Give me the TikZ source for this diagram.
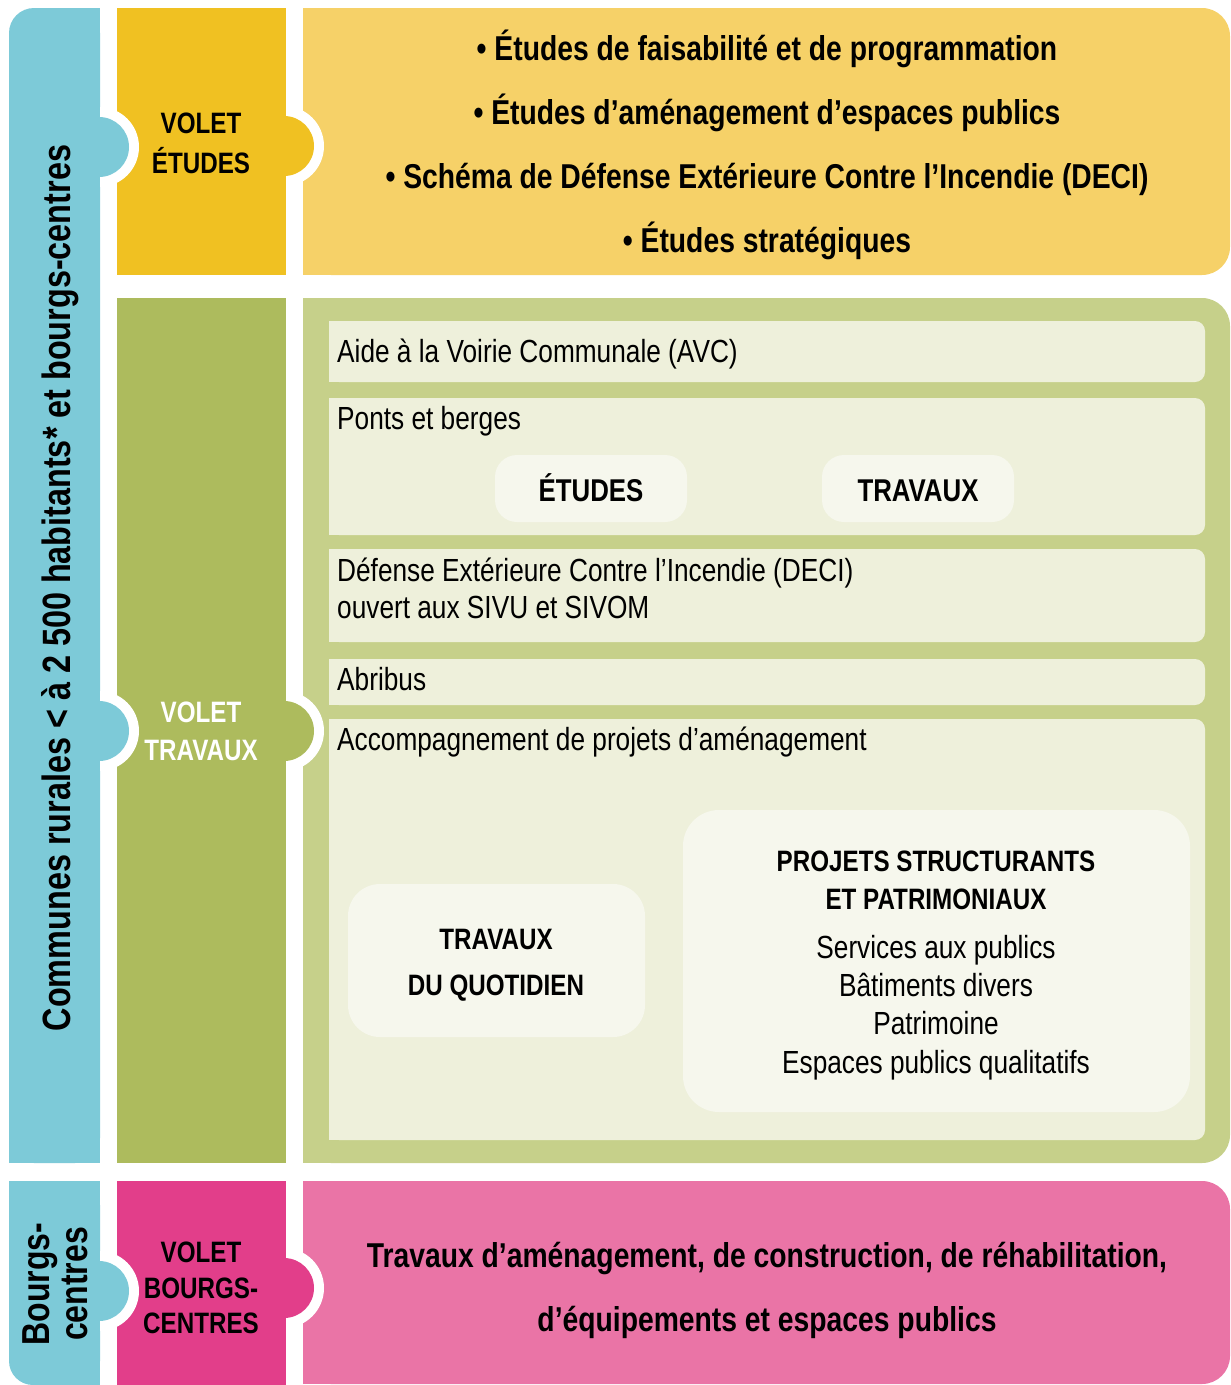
\documentclass[tikz,border=0pt]{standalone}
\usepackage{fontspec}
\setmainfont{Liberation Sans}[FakeStretch=0.82]
\definecolor{cblue}{HTML}{7DCAD8}
\definecolor{yelD}{HTML}{F0C122}
\definecolor{yelL}{HTML}{F6D168}
\definecolor{grnD}{HTML}{ADBB5D}
\definecolor{grnL}{HTML}{C6D08A}
\definecolor{pale}{HTML}{EEF0DB}
\definecolor{paler}{HTML}{F6F7ED}
\definecolor{pnkD}{HTML}{E23E8A}
\definecolor{pnkL}{HTML}{EA74A6}
\begin{document}
\begin{tikzpicture}[x=1pt,y=-1pt,
  reg/.style={inner sep=0pt, font=\fontsize{32}{36}\selectfont, text height=22.9pt, text depth=0pt},
  bld/.style={inner sep=0pt, font=\bfseries\fontsize{34.5}{40}\selectfont, text height=24.7pt, text depth=0pt},
  sub/.style={inner sep=0pt, font=\bfseries\fontsize{29.5}{34}\selectfont, text height=21.1pt, text depth=0pt},
  subb/.style={inner sep=0pt, font=\bfseries\fontsize{31.5}{36}\selectfont, text height=22.5pt, text depth=0pt},
  side/.style={inner sep=0pt, rotate=90, font=\bfseries\fontsize{39.5}{40}\selectfont, text height=28.3pt, text depth=0pt},
  sideb/.style={inner sep=0pt, rotate=90, font=\bfseries\fontsize{39}{40}\selectfont, text height=27.9pt, text depth=0pt}]
\useasboundingbox (0,0) rectangle (1231,1385);
% ---- left blue column
\fill[cblue, rounded corners=25] (9,8) rectangle (100,1163);
\fill[cblue] (50,8) rectangle (100,1163);
\fill[cblue] (9,600) rectangle (100,1163);
\fill[cblue, rounded corners=24] (9,1181) rectangle (100,1385);
\fill[cblue] (50,1181) rectangle (100,1385);
\fill[cblue] (9,1181) rectangle (100,1300);
% ---- dark columns
\fill[yelD] (117,8) rectangle (286,275);
\fill[grnD] (117,298) rectangle (286,1163);
\fill[pnkD] (117,1181) rectangle (286,1385);
% ---- light boxes
\fill[yelL, rounded corners=28] (303,8) rectangle (1230,275);
\fill[yelL] (303,8) rectangle (800,275);
\fill[grnL, rounded corners=28] (303,298) rectangle (1230,1163);
\fill[grnL] (303,298) rectangle (800,1163);
\fill[pnkL, rounded corners=28] (303,1181) rectangle (1230,1384);
\fill[pnkL] (303,1181) rectangle (800,1384);
% ---- notches
\begin{scope}
  \clip (100,0) rectangle (286,1385);
  \foreach \c in {147,731,1291} \fill[white] (99,\c) circle[radius=40];
\end{scope}
\begin{scope}
  \clip (286,0) rectangle (1231,1385);
  \foreach \c in {146,731,1288} \fill[white] (284,\c) circle[radius=40];
\end{scope}
% ---- bulges
\foreach \c in {147,731,1291} \fill[cblue] (99,\c) circle[radius=30];
\fill[yelD] (284,146) circle[radius=30];
\fill[grnD] (284,731) circle[radius=30];
\fill[pnkD] (284,1288) circle[radius=30];
% ---- inner pale boxes
\foreach \a/\b in {321/382,398/535,549/642,659/705,719/1140}{
  \fill[pale, rounded corners=10] (329,\a) rectangle (1205,\b);
  \fill[pale] (329,\a) rectangle (800,\b);
}
% ---- sub boxes
\fill[paler, rounded corners=22] (495,455) rectangle (687,522);
\fill[paler, rounded corners=22] (822,455) rectangle (1014,522);
\fill[paler, rounded corners=32] (348,884) rectangle (645,1037);
\fill[paler, rounded corners=36] (683,810) rectangle (1190,1112);
% ---- texts: left column
\node[side] (comm) at (56,588) {Communes rurales < à 2~500 habitants* et bourgs-centres};
\node[sideb] (bc1) at (36,1284) {Bourgs-};
\node[sideb] (bc2) at (74,1284) {centres};
% volets
\node[sub] (ve1) at (201,123) {VOLET};
\node[sub] (ve2) at (201,163) {ÉTUDES};
\node[sub, text=white] (vt1) at (201,712) {VOLET};
\node[sub, text=white] (vt2) at (201,750) {TRAVAUX};
\node[sub] (vb1) at (201,1252) {VOLET};
\node[sub] (vb2) at (201,1288) {BOURGS-};
\node[sub] (vb3) at (201,1323) {CENTRES};
% top box
\node[bld] (e1) at (767,48) {• Études de faisabilité et de programmation};
\node[bld] (e2) at (767,112) {• Études d’aménagement d’espaces publics};
\node[bld] (e3) at (767,176) {• Schéma de Défense Extérieure Contre l’Incendie (DECI)};
\node[bld] (e4) at (767,240) {• Études stratégiques};
% middle box
\node[reg, anchor=west] (avc) at (337,351) {Aide à la Voirie Communale (AVC)};
\node[reg, anchor=west] (pont) at (337,418) {Ponts et berges};
\node[subb] (etu) at (591,490) {ÉTUDES};
\node[subb] (trv) at (918,490) {TRAVAUX};
\node[reg, anchor=west] (deci1) at (337,570) {Défense Extérieure Contre l’Incendie (DECI)};
\node[reg, anchor=west] (deci2) at (337,607) {ouvert aux SIVU et SIVOM};
\node[reg, anchor=west] (abri) at (337,679) {Abribus};
\node[reg, anchor=west] (acc) at (337,739) {Accompagnement de projets d’aménagement};
\node[sub] (tq1) at (496,939) {TRAVAUX};
\node[sub] (tq2) at (496,985) {DU QUOTIDIEN};
\node[sub] (ps1) at (936,861) {PROJETS STRUCTURANTS};
\node[sub] (ps2) at (936,899) {ET PATRIMONIAUX};
\node[reg] (ps3) at (936,947) {Services aux publics};
\node[reg] (ps4) at (936,985) {Bâtiments divers};
\node[reg] (ps5) at (936,1023) {Patrimoine};
\node[reg] (ps6) at (936,1062) {Espaces publics qualitatifs};
% bottom box
\node[bld] (p1) at (767,1255) {Travaux d’aménagement, de construction, de réhabilitation,};
\node[bld] (p2) at (767,1319) {d’équipements et espaces publics};
\end{tikzpicture}
\end{document}
